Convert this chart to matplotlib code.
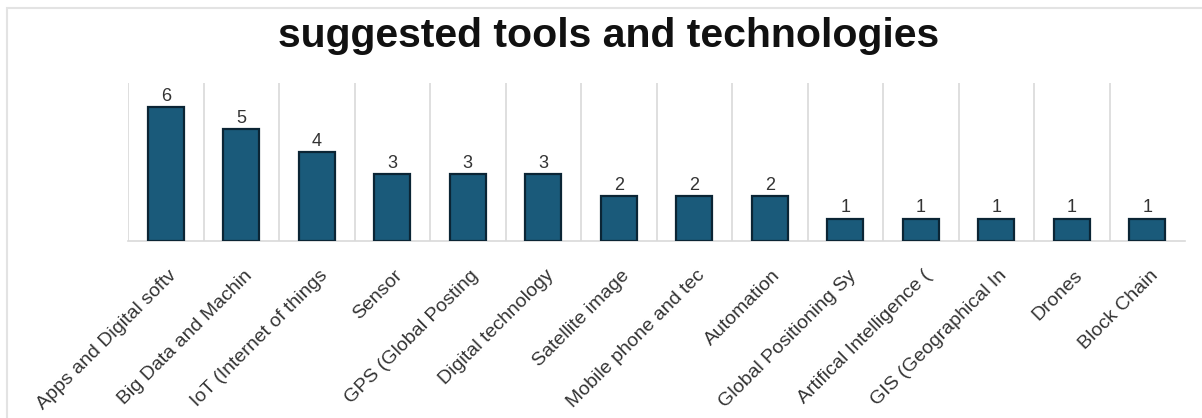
import matplotlib
matplotlib.use("Agg")
import matplotlib.pyplot as plt
from matplotlib.patches import Rectangle
from matplotlib.transforms import ScaledTranslation
import numpy as np

categories = ["Apps and Digital softv", "Big Data and Machin", "IoT (Internet of things",
              "Sensor", "GPS (Global Posting", "Digital technology", "Satellite image",
              "Mobile phone and tec", "Automation", "Global Positioning Sy",
              "Artifical Intelligence (", "GIS (Geographical In", "Drones", "Block Chain"]
values = [6, 5, 4, 3, 3, 3, 2, 2, 2, 1, 1, 1, 1, 1]

plt.rcParams['font.family'] = ['Liberation Sans', 'DejaVu Sans']

W, H = 1202, 418
fig = plt.figure(figsize=(W / 100, H / 100), dpi=100)
fig.patches.append(Rectangle((7 / W, -0.1), 1.2, (H - 8) / H + 0.1, transform=fig.transFigure,
                             fill=False, edgecolor='#e3e3e3', linewidth=1.5))

ax = fig.add_axes([128 / W, 177 / H, (1185 - 128) / W, 158 / H])
x = np.arange(len(categories))
bars = ax.bar(x, values, width=0.48, color='#1a5a7a', edgecolor='#0b2535', linewidth=1.6, zorder=3)
for xi, v in zip(x, values):
    ax.text(xi, v + 0.1, str(v), ha='center', va='bottom', fontsize=13, color='#333333')

ax.set_xlim(-0.5, len(categories) - 0.5)
ax.set_ylim(0, 7.08)
ax.set_yticks([])
ax.set_xticks(x)
ax.set_xticklabels([])
ax.tick_params(axis='x', length=0)
off = ScaledTranslation(2 / 100, -26 / 100, fig.dpi_scale_trans)
for xi, lab in zip(x, categories):
    ax.text(xi, 0, lab, rotation=45, ha='right', va='top', rotation_mode='anchor',
            fontsize=14, color='#333333', transform=ax.get_xaxis_transform() + off)
ax.set_xticks(np.arange(-0.5, len(categories) - 1), minor=True)
ax.tick_params(axis='x', which='minor', length=0)
ax.grid(True, which='minor', axis='x', color='#d9d9d9', linewidth=1.2, zorder=0)
for s in ['top', 'right', 'left']:
    ax.spines[s].set_visible(False)
ax.spines['bottom'].set_color('#d9d9d9')
ax.spines['bottom'].set_linewidth(1.2)

fig.text(609 / W, 1 - 36 / H, "suggested tools and technologies", ha='center', va='center',
         fontsize=29.5, fontweight='bold', color='#111111')

fig.savefig("out.png", dpi=100)
